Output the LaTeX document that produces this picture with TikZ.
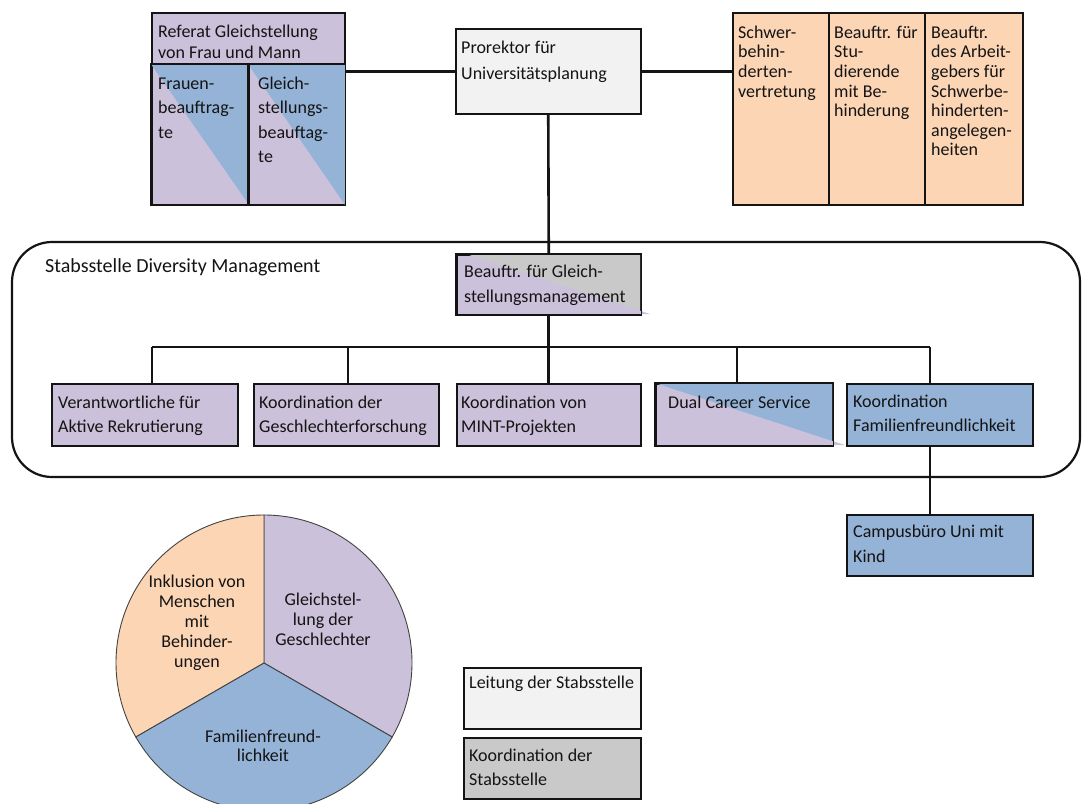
\documentclass[tikz,border=0pt]{standalone}
\usepackage{fontspec}
\setmainfont{Carlito}
\definecolor{purp}{HTML}{CCC1DA}
\definecolor{blu}{HTML}{95B3D7}
\definecolor{ora}{HTML}{FCD5B5}
\definecolor{gry}{HTML}{C9C9C9}
\definecolor{lgr}{HTML}{F2F2F2}
\definecolor{ink}{HTML}{141414}
\newcommand\tstrut{\rule{0pt}{14pt}}
\tikzset{
  box/.style={draw=ink, line width=1.5pt, inner sep=0pt, anchor=north west},
  rim/.style={draw=ink, line width=1.5pt},
  conn/.style={draw=ink, line width=2.6pt},
  txt/.style={anchor=north west, inner sep=0pt, align=left, text=ink, font=\fontsize{18}{24}\selectfont},
  otxt/.style={txt, font=\fontsize{18}{19.6}\selectfont},
  ptxt/.style={anchor=north, inner sep=0pt, align=center, text=ink, font=\fontsize{18}{20}\selectfont},
  slice/.style={draw=ink!80, line width=0.9pt}
}
\begin{document}
\begin{tikzpicture}[x=1pt,y=-1pt]
\useasboundingbox (0,0) rectangle (1083,803);
\fill[white] (0,0) rectangle (1083,803);

% container
\draw[line width=2.2pt, draw=ink, rounded corners=40pt] (12,242) rectangle (1080,477);
\node[anchor=base west, inner sep=0pt, text=ink, font=\fontsize{20}{24}\selectfont] (stab) at (45,272) {Stabsstelle Diversity Management};

% Referat group
\node[box, fill=purp, minimum width=193, minimum height=52] (ref) at (151,12) {};
\node[box, fill=purp, minimum width=97, minimum height=140] (fr) at (151,64) {};
\node[box, fill=purp, minimum width=96, minimum height=140] (gl) at (248,64) {};
\fill[blu] (fr.north west) -- (fr.north east) -- (fr.south east) -- cycle;
\fill[blu] (gl.north west) -- (gl.north east) -- (gl.south east) -- cycle;
\draw[rim] (fr.north west) rectangle (fr.south east);
\draw[rim] (gl.north west) rectangle (gl.south east);
\node[txt, font=\fontsize{18}{21}\selectfont] (reft) at (158,23) {\tstrut Referat Gleichstellung\\von Frau und Mann};
\node[txt, font=\fontsize{18}{24.5}\selectfont] (frt) at (158,75) {\tstrut Frauen-\\beauftrag-\\te};
\node[txt, font=\fontsize{18}{24.5}\selectfont] (glt) at (258,75) {\tstrut Gleich-\\stellungs-\\beauftag-\\te};

% Prorektor
\node[box, fill=lgr, minimum width=185, minimum height=85] (pro) at (455,28) {};
\node[txt, font=\fontsize{18}{26}\selectfont] (prot) at (461,39) {\tstrut Prorektor für\\Universitätsplanung};

% orange group
\node[box, fill=ora, minimum width=96, minimum height=192] (o1) at (732,12) {};
\node[box, fill=ora, minimum width=96, minimum height=192] (o2) at (828,12) {};
\node[box, fill=ora, minimum width=98, minimum height=192] (o3) at (924,12) {};
\node[otxt] (o1t) at (738,24) {\tstrut Schwer-\\behin-\\derten-\\vertretung};
\node[otxt] (o2t) at (834,24) {\tstrut Beauftr. für\\Stu-\\dierende\\mit Be-\\hinderung};
\node[otxt] (o3t) at (931,24) {\tstrut Beauftr.\\des Arbeit-\\gebers für\\Schwerbe-\\hinderten-\\angelegen-\\heiten};

% Beauftragte
\node[box, fill=purp, minimum width=184, minimum height=60] (beau) at (456,254) {};
\fill[gry] (466,254) -- (640,254) -- (640,310.7) -- cycle;
\fill[purp] (640,310.7) -- (650,314) -- (640,314) -- cycle;
\draw[rim] (beau.north west) rectangle (beau.south east);
\node[txt, font=\fontsize{18}{25}\selectfont] (beaut) at (464,263) {\tstrut Beauftr. für Gleich-\\stellungsmanagement};

% row of boxes
\node[box, fill=purp, minimum width=186, minimum height=62] (c1) at (51,383) {};
\node[box, fill=purp, minimum width=185, minimum height=62] (c2) at (253,383) {};
\node[box, fill=purp, minimum width=184, minimum height=62] (c3) at (456,383) {};
\node[box, fill=purp, minimum width=177, minimum height=62] (c4) at (655,383) {};
\fill[blu] (655,383) -- (832,383) -- (832,440.8) -- cycle;
\fill[purp] (832,440.8) -- (845,445) -- (832,445) -- cycle;
\draw[rim] (c4.north west) rectangle (c4.south east);
\node[box, fill=blu, minimum width=186, minimum height=62] (c5) at (846,383) {};
\node[box, fill=blu, minimum width=186, minimum height=61] (camp) at (846,514) {};

\node[txt] (c1t) at (58,394) {\tstrut Verantwortliche für\\Aktive Rekrutierung};
\node[txt] (c2t) at (259,394) {\tstrut Koordination der\\Geschlechterforschung};
\node[txt] (c3t) at (461,394) {\tstrut Koordination von\\MINT-Projekten};
\node[txt] (c4t) at (668,394) {\tstrut Dual Career Service};
\node[txt] (c5t) at (853,393) {\tstrut Koordination\\Familienfreundlichkeit};
\node[txt, font=\fontsize{18}{25}\selectfont] (campt) at (853,523) {\tstrut Campusbüro Uni mit\\Kind};

% connectors
\draw[conn] (pro.west) -- (pro.west -| gl.east);
\draw[conn] (pro.east) -- (pro.east -| o1.west);
\draw[conn] (pro.south) -- (beau.north);
\draw[conn] (beau.south) -- (c3.north);
\coordinate (bl) at (152,347);
\coordinate (d2) at (348,347);
\coordinate (d4) at (737,347);
\coordinate (br) at (930,347);
\draw[conn] (bl) -- (br);
\draw[conn] (bl) -- (bl |- c1.north);
\draw[conn] (d2) -- (d2 |- c2.north);
\draw[conn] (d4) -- (d4 |- c4.north);
\draw[conn] (br) -- (br |- c5.north);
\draw[conn] (br |- c5.south) -- (br |- camp.north);

% pie (y axis points down: angle a is drawn at screen angle -a)
\coordinate (pc) at (264,663);
\filldraw[slice, fill=purp] (pc) -- ++(-90:148) arc[start angle=-90, end angle=30, radius=148] -- cycle;
\filldraw[slice, fill=ora] (pc) -- ++(-90:148) arc[start angle=-90, end angle=-210, radius=148] -- cycle;
\filldraw[slice, fill=blu] (pc) -- ++(-210:148) arc[start angle=-210, end angle=-330, radius=148] -- cycle;
\node[ptxt] (p1) at (197,573) {\tstrut Inklusion von\\Menschen\\mit\\Behinder-\\ungen};
\node[ptxt] (p2) at (323,591) {\tstrut Gleichstel-\\lung der\\Geschlechter};
\node[ptxt, font=\fontsize{18}{19}\selectfont] (p3) at (263,728) {\tstrut Familienfreund-\\lichkeit};

% legend
\node[box, fill=lgr, minimum width=177, minimum height=61] (leg1) at (463,667) {};
\node[box, fill=gry, minimum width=177, minimum height=61] (leg2) at (463,737) {};
\node[txt] (leg1t) at (469,674) {\tstrut Leitung der Stabsstelle};
\node[txt] (leg2t) at (469,747) {\tstrut Koordination der\\Stabsstelle};
\end{tikzpicture}
\end{document}
